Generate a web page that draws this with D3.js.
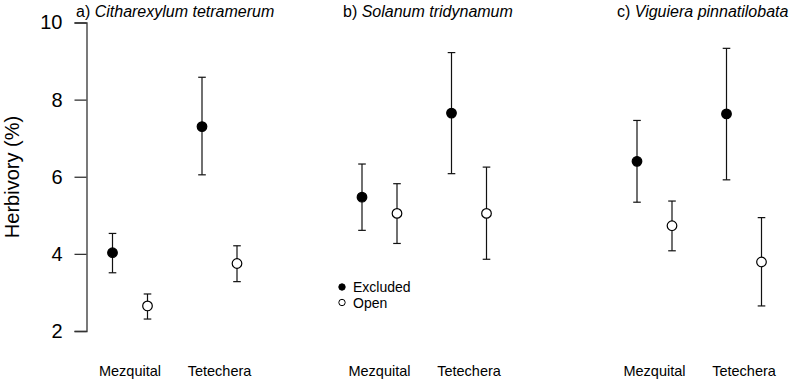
<!DOCTYPE html>
<html>
<head>
<meta charset="utf-8">
<script src="https://cdn.jsdelivr.net/npm/d3@7"></script>
<style>
  body { margin: 0; background: #fff; }
  text { font-family: "Liberation Sans", Arial, Helvetica, sans-serif; fill: #000; }
</style>
</head>
<body>
<script>
// data
var panels = ["a", "b", "c"];
var species = ["Citharexylum tetramerum", "Solanum tridynamum", "Viguiera pinnatilobata"];
var sites = ["Mezquital", "Tetechera"];
var treatments = ["Excluded", "Open"];
var yTicks = [2, 4, 6, 8, 10];

// mean, lower, upper  per panel -> site -> treatment
var means = [
  [[4.03, 2.65], [7.30, 3.75]],
  [[5.47, 5.05], [7.65, 5.05]],
  [[6.40, 4.73], [7.63, 3.79]]
];
var lowers = [
  [[3.51, 2.31], [6.05, 3.28]],
  [[4.61, 4.27], [6.08, 3.86]],
  [[5.34, 4.08], [5.92, 2.65]]
];
var uppers = [
  [[4.53, 2.96], [8.58, 4.21]],
  [[6.33, 5.82], [9.22, 6.25]],
  [[7.46, 5.37], [9.33, 4.94]]
];

var W = 791, H = 381;
var svg = d3.select("body").append("svg")
  .attr("width", W)
  .attr("height", H);

var y = d3.scaleLinear().domain([2, 10]).range([331, 22.5]);

// layout of each panel (left site center)
var panelStart = [130, 379.5, 654.5];
var titleX = [76, 343, 617];

// y axis (only first panel)
var yAxis = svg.append("g")
  .attr("transform", "translate(86.5,0)")
  .call(d3.axisLeft(y).tickValues(yTicks).tickSize(12).tickPadding(12).tickFormat(d3.format("d")));
yAxis.select(".domain").attr("stroke", "#333").attr("stroke-width", 1.3);
yAxis.selectAll(".tick line").attr("stroke", "#333").attr("stroke-width", 1.3);
yAxis.selectAll(".tick text").style("font-size", "20px").attr("fill", "#000")
  .style("font-family", "'Liberation Sans', Arial, sans-serif");

svg.append("text")
  .attr("transform", "translate(19,177) rotate(-90)")
  .attr("text-anchor", "middle")
  .style("font-size", "20px")
  .text("Herbivory (%)");

panels.forEach(function (p, pi) {
  var x = d3.scalePoint().domain(sites).range([panelStart[pi], panelStart[pi] + 89.5]);
  var off = d3.scalePoint().domain(treatments).range([-17.5, 17.5]);
  var g = svg.append("g");

  // title
  var t = g.append("text")
    .attr("x", titleX[pi])
    .attr("y", 17)
    .style("font-size", "16px");
  t.append("tspan").text(p + ") ");
  t.append("tspan").style("font-style", "italic").text(species[pi]);

  // site labels
  g.selectAll(".site")
    .data(sites)
    .enter()
    .append("text")
    .attr("x", d => x(d))
    .attr("y", 376)
    .attr("text-anchor", "middle")
    .style("font-size", "14.5px")
    .text(d => d);

  var pts = [];
  sites.forEach(function (s, si) {
    treatments.forEach(function (tr, ti) {
      pts.push({
        site: s, trt: tr,
        m: means[pi][si][ti], lo: lowers[pi][si][ti], hi: uppers[pi][si][ti]
      });
    });
  });

  var pg = g.selectAll(".pt")
    .data(pts)
    .enter()
    .append("g")
    .attr("transform", d => "translate(" + (x(d.site) + off(d.trt)) + ",0)");

  pg.append("line")
    .attr("x1", 0).attr("x2", 0)
    .attr("y1", d => y(d.lo)).attr("y2", d => y(d.hi))
    .attr("stroke", "#111").attr("stroke-width", 1.2);
  pg.append("line")
    .attr("x1", -3.8).attr("x2", 3.8)
    .attr("y1", d => y(d.hi)).attr("y2", d => y(d.hi))
    .attr("stroke", "#111").attr("stroke-width", 1.2);
  pg.append("line")
    .attr("x1", -3.8).attr("x2", 3.8)
    .attr("y1", d => y(d.lo)).attr("y2", d => y(d.lo))
    .attr("stroke", "#111").attr("stroke-width", 1.2);
  pg.append("circle")
    .attr("cx", 0)
    .attr("cy", d => y(d.m))
    .attr("r", 4.8)
    .attr("fill", d => d.trt == "Excluded" ? "#000" : "#fff")
    .attr("stroke", "#000")
    .attr("stroke-width", 1.2);
});

// legend
var leg = svg.append("g").attr("transform", "translate(342,287)");
treatments.forEach(function (tr, i) {
  leg.append("circle")
    .attr("cx", 0).attr("cy", i * 15.5)
    .attr("r", 3.2)
    .attr("fill", tr == "Excluded" ? "#000" : "#fff")
    .attr("stroke", "#000").attr("stroke-width", 1);
  leg.append("text")
    .attr("x", 11).attr("y", i * 15.5 + 5)
    .style("font-size", "14px")
    .text(tr);
});
</script>
</body>
</html>
